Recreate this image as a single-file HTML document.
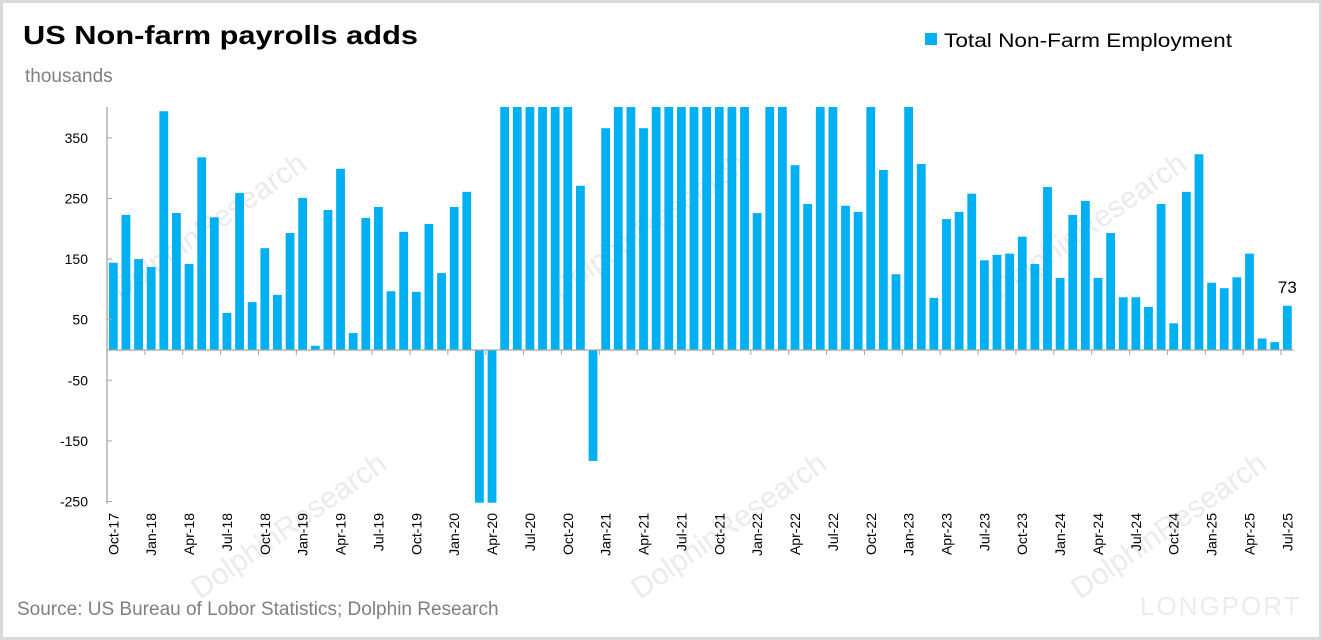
<!DOCTYPE html>
<html><head><meta charset="utf-8"><style>
html,body{margin:0;padding:0;background:#fff}
svg{display:block}
text{font-family:"Liberation Sans","Noto Sans CJK SC",sans-serif}
</style></head><body>
<svg id="chart" width="1322" height="640" viewBox="0 0 1322 640" xmlns="http://www.w3.org/2000/svg">
<rect x="1.5" y="1.5" width="1319" height="637" fill="#fff" stroke="#d9d9d9" stroke-width="3"/>
<g fill="#e6e6e6" font-size="30" opacity="0.8">
<text x="120" y="300" transform="rotate(-35 120 300)">DolphinResearch</text>
<text x="560" y="300" transform="rotate(-35 560 300)">DolphinResearch</text>
<text x="1000" y="300" transform="rotate(-35 1000 300)">DolphinResearch</text>
<text x="200" y="600" transform="rotate(-35 200 600)">DolphinResearch</text>
<text x="640" y="600" transform="rotate(-35 640 600)">DolphinResearch</text>
<text x="1080" y="600" transform="rotate(-35 1080 600)">DolphinResearch</text>
</g>
<text x="23" y="44" font-size="26" font-weight="bold" fill="#000" textLength="395" lengthAdjust="spacingAndGlyphs">US Non-farm payrolls adds</text>
<text x="25" y="82" font-size="19" fill="#808080">thousands</text>
<rect x="925" y="33" width="12" height="12" fill="#00b0f0"/>
<text x="944" y="47" font-size="19" fill="#000" textLength="288" lengthAdjust="spacingAndGlyphs">Total Non-Farm Employment</text>
<text x="17" y="615" font-size="19" fill="#808080">Source: US Bureau of Lobor Statistics; Dolphin Research</text>
<text x="1140" y="615" font-size="26" fill="#ececec" letter-spacing="2">LONGPORT</text>
<g id="plot"></g>
</svg>
<script>
const months = (function(){const m=['Jan','Feb','Mar','Apr','May','Jun','Jul','Aug','Sep','Oct','Nov','Dec'];const a=[];for(let y=2017,i=9;;){a.push(m[i]+'-'+String(y).slice(2));if(y===2025&&i===6)break;i++;if(i===12){i=0;y++;}}return a;})();
const values = [144,223,150,137,394,226,142,318,219,61,259,79,168,91,193,251,7,231,299,28,218,236,97,195,96,208,127,236,261,
-1373,-20477,2725,4781,1726,1583,716,680,271,-183,
366,536,785,366,447,962,1091,483,424,677,647,588,
226,904,714,305,241,424,526,238,228,537,297,125,
472,307,86,216,228,258,148,157,159,187,142,269,
119,223,246,119,193,87,87,71,241,44,261,323,
111,102,120,159,19,13,73];
const yTicks = [350,250,150,50,-50,-150,-250];
const yMin=-252, yMax=401;
const x0=107, band=12.624, zeroY=350, pxPer=0.606;
function yPos(v){v=Math.max(yMin,Math.min(yMax,v));return zeroY - v*pxPer;}
function xCenter(i){return x0 + band*(i+0.5);}
const NS='http://www.w3.org/2000/svg';
const g=document.getElementById('plot');
function mk(t,attrs){const e=document.createElementNS(NS,t);for(const k in attrs)e.setAttribute(k,attrs[k]);g.appendChild(e);return e;}
values.forEach((v,i)=>{
  const y1=yPos(v), y0=yPos(0);
  const r=mk('rect',{x:(xCenter(i)-4.4).toFixed(2),y:Math.min(y1,y0).toFixed(2),width:8.8,height:Math.abs(y1-y0).toFixed(2),fill:'#00b0f0'});
  
  
});
// y axis
const ax=mk('line',{x1:x0,y1:yPos(yMax),x2:x0,y2:yPos(yMin)+1,stroke:'#a6a6a6','stroke-width':1.3});


yTicks.forEach(t=>{
  const y=yPos(t);
  const tk=mk('line',{x1:x0,y1:y,x2:x0+5,y2:y,stroke:'#a6a6a6','stroke-width':1});
  
  
  const tx=mk('text',{x:88,y:y+5,'font-size':14,'text-anchor':'end',fill:'#000'});
  tx.textContent=t;
  
  
});
// x axis at zero
const xa=mk('line',{x1:x0,y1:zeroY,x2:x0+band*values.length,y2:zeroY,stroke:'#a6a6a6','stroke-width':1.3});


for(let i=0;i<=values.length;i+=3){
  const x=x0+band*i;
  const tk=mk('line',{x1:x,y1:zeroY,x2:x,y2:zeroY+5,stroke:'#a6a6a6','stroke-width':1});
  
  
}
months.forEach((m,i)=>{
  if(i%3!==0)return;
  const x=xCenter(i)+5, y=513;
  const tx=mk('text',{x:x,y:y,'font-size':14,'text-anchor':'end',fill:'#000',transform:`rotate(-90 ${x} ${y})`});
  tx.textContent=m;
  
  
});
const last=values.length-1;
const lbl=mk('text',{x:xCenter(last),y:yPos(values[last])-13,'font-size':17,'text-anchor':'middle',fill:'#000'});
lbl.textContent=values[last];


</script>
</body></html>
